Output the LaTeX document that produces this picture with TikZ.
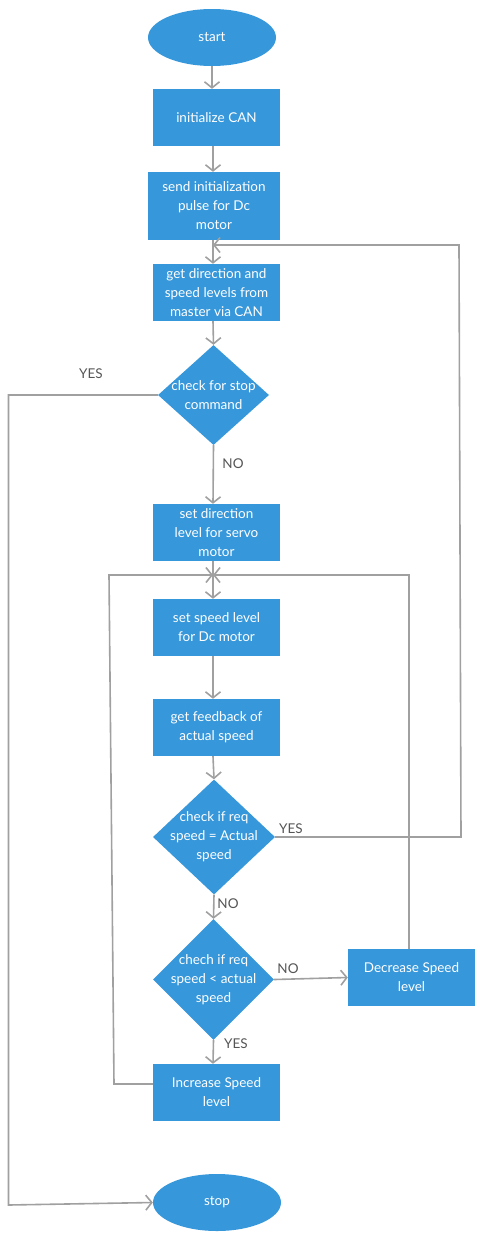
\documentclass[tikz,border=0pt]{standalone}
\usepackage{fontspec}
\setmainfont{Lato}
\usetikzlibrary{shapes.geometric,arrows.meta}
\definecolor{boxblue}{HTML}{3797DB}
\definecolor{linegray}{HTML}{A0A0A0}
\definecolor{labgray}{HTML}{555555}
\tikzset{
  base/.style={fill=boxblue,draw=none,text=white,inner sep=0pt,align=center,
    font=\fontsize{13.5}{19}\selectfont},
  stepbox/.style={base,rectangle,minimum width=127pt,minimum height=57pt},
  term/.style={base,ellipse,minimum width=128pt,minimum height=57pt},
  decide/.style={base,diamond,aspect=1},
  dtext/.style={text=white,align=center,inner sep=0pt,font=\fontsize{13.5}{19}\selectfont},
  conn/.style={draw=linegray,line width=1.6pt},
  arr/.style={conn,-{Straight Barb[length=6pt,width=15pt]}},
  lab/.style={text=labgray,inner sep=0pt,font=\fontsize{13.5}{16}\selectfont},
}
\begin{document}
\begin{tikzpicture}[x=1pt,y=-1pt]
\useasboundingbox (0,0) rectangle (484,1240);
\coordinate (c) at (213,0);
% nodes
\node[term] (start) at (212,37.5) {start};
\node[stepbox] (init) at (216.5,117.5) {initialize CAN};
\node[stepbox,minimum width=132pt,minimum height=68pt] (send) at (214,206) {send initialization\\pulse for Dc\\motor};
\node[stepbox] (getdir) at (216.5,292.5) {get direction and\\speed levels from\\master via CAN};
\node[decide,minimum width=111pt,minimum height=100pt] (d1) at (213.5,395) {};
\node[dtext] (d1t) at (d1.center) {check for stop\\command};
\node[stepbox] (setdir) at (216.5,532.5) {set direction\\level for servo\\motor};
\node[stepbox] (setspd) at (216.5,627.5) {set speed level\\for Dc motor};
\node[stepbox] (fb) at (216.5,727.5) {get feedback of\\actual speed};
\node[decide,minimum width=122pt,minimum height=115pt] (d2) at (214,837) {};
\node[dtext] (d2t) at (d2.center) {check if req\\speed = Actual\\speed};
\node[decide,minimum width=121pt,minimum height=121pt] (d3) at (213.5,979.5) {};
\node[dtext] (d3t) at (d3.center) {chech if req\\speed < actual\\speed};
\node[stepbox] (dec) at (411.5,977.5) {Decrease Speed\\level};
\node[stepbox] (inc) at (216.5,1092.5) {Increase Speed\\level};
\node[term] (stop) at (217,1202.5) {stop};
\coordinate (j1) at (213,245);
\coordinate (j2) at (213,575);
% connectors
\draw[arr] (start.south) -- (start.south |- init.north);
\draw[arr] (c |- init.south) -- (c |- send.north);
\draw[arr] (c |- send.south) -- (c |- getdir.north);
\draw[arr] (c |- getdir.south) -- (d1.north);
\draw[arr] (d1.west) -- (8.5,395) -- (8.5,1205) -- (stop.west);
\draw[arr] (d1.south) -- (c |- setdir.north);
\draw[arr] (c |- setdir.south) -- (c |- setspd.north);
\draw[arr] (c |- setspd.south) -- (c |- fb.north);
\draw[arr] (c |- fb.south) -- (d2.north);
\draw[arr] (d2.east) -- (461,837) -- (459,245) -- (j1);
\draw[arr] (d2.south) -- (d3.north);
\draw[arr] (d3.east) -- (dec.west);
\draw[arr] (409,949) -- (409,575) -- (j2);
\draw[arr] (d3.south) -- (c |- inc.north);
\draw[arr] (inc.west |- 0,1084) -- (114,1084) -- (109,575) -- (j2);
% labels
\node[lab] (l1) at (91,374) {YES};
\node[lab] (l2) at (233,464) {NO};
\node[lab] (l3) at (291,829) {YES};
\node[lab] (l4) at (228,904) {NO};
\node[lab] (l5) at (288,969) {NO};
\node[lab] (l6) at (236,1044) {YES};
\end{tikzpicture}
\end{document}
